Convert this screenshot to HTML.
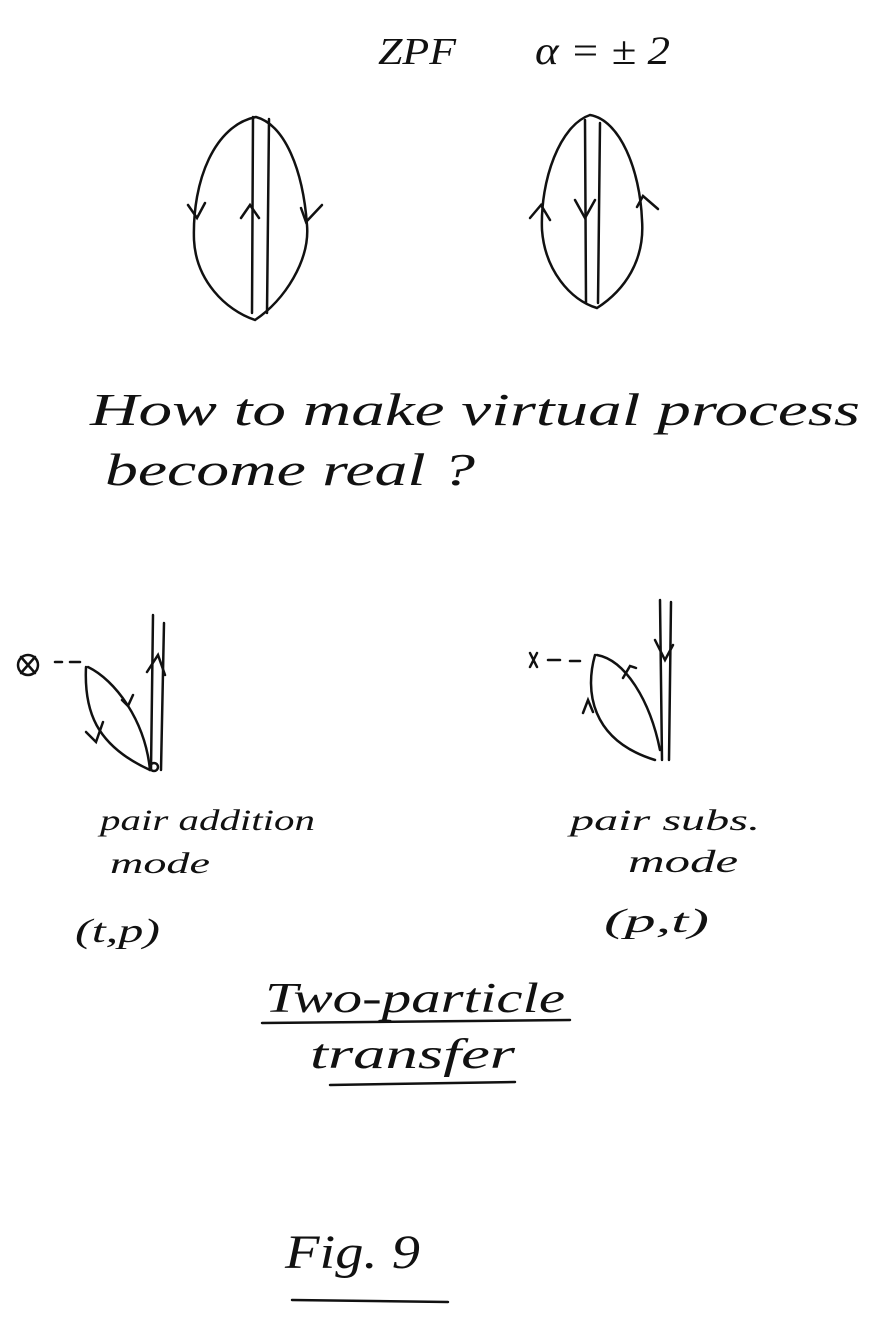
<!DOCTYPE html>
<html><head><style>
html,body{margin:0;padding:0;background:#fff;}
svg{display:block}
text{font-family:"Liberation Serif",serif;font-style:italic;fill:#111}
</style></head><body>
<svg width="884" height="1334" viewBox="0 0 884 1334" xmlns="http://www.w3.org/2000/svg">
<g fill="none" stroke="#111" stroke-width="2.5" stroke-linecap="round">
<path d="M256 117 C215 125 192 180 194 240 C196 280 225 310 255 320 C285 300 310 260 307 225 C303 170 285 125 256 117"/>
<line x1="253" y1="117" x2="252" y2="313"/>
<line x1="269" y1="119" x2="267" y2="313"/>
<path d="M188 205 L197 218 L205 203"/>
<path d="M241 218 L250 205 L259 218"/>
<path d="M301 208 L306 222 L322 205"/>
<path d="M590 115 C560 125 540 180 542 230 C545 270 570 300 597 308 C625 290 645 260 642 220 C640 170 620 120 590 115"/>
<line x1="585" y1="120" x2="586" y2="303"/>
<line x1="600" y1="123" x2="598" y2="303"/>
<path d="M530 218 L541 205 L550 220"/>
<path d="M575 200 L585 218 L595 200"/>
<path d="M637 207 L643 196 L658 209"/>
<!-- bottom left -->
<circle cx="28" cy="665" r="10"/>
<path d="M21 657 L35 673 M35 657 L21 673"/>
<path d="M55 662 L62 662 M70 662 L80 662"/>
<path d="M86 667 C84 710 95 745 150 770"/>
<path d="M88 667 C115 680 145 720 150 770"/>
<line x1="153" y1="615" x2="151" y2="770"/>
<line x1="164" y1="623" x2="161" y2="770"/>
<circle cx="154" cy="767" r="4"/>
<path d="M147 672 L158 655 L165 675"/>
<path d="M122 700 L128 706 L133 695"/>
<path d="M86 732 L96 742 L103 722"/>
<!-- right bottom -->
<path d="M530 653 L537 667 M537 653 L530 667"/>
<path d="M548 660 L560 660 M570 661 L580 661"/>
<path d="M595 655 C585 690 590 740 655 760"/>
<path d="M597 655 C625 660 650 700 660 750"/>
<line x1="660" y1="600" x2="662" y2="760"/>
<line x1="671" y1="602" x2="669" y2="760"/>
<path d="M655 640 L665 660 L673 645"/>
<path d="M583 713 L588 700 L593 712"/>
<path d="M623 678 L630 666 L636 668"/>
</g>
<g>
<text x="378" y="64" font-size="38" font-style="normal" font-family="Liberation Sans" textLength="78" lengthAdjust="spacingAndGlyphs">ZPF</text>
<text x="535" y="64" font-size="40" textLength="135" lengthAdjust="spacingAndGlyphs">α = ± 2</text>
<text x="90" y="425" font-size="46" textLength="770" lengthAdjust="spacingAndGlyphs">How to  make virtual process</text>
<text x="105" y="485" font-size="46" textLength="370" lengthAdjust="spacingAndGlyphs">become real ?</text>
<text x="100" y="830" font-size="30" textLength="215" lengthAdjust="spacingAndGlyphs">pair addition</text>
<text x="110" y="873" font-size="30" textLength="100" lengthAdjust="spacingAndGlyphs">mode</text>
<text x="75" y="942" font-size="34" textLength="85" lengthAdjust="spacingAndGlyphs">(t,p)</text>
<text x="570" y="830" font-size="30" textLength="190" lengthAdjust="spacingAndGlyphs">pair subs.</text>
<text x="628" y="872" font-size="32" textLength="110" lengthAdjust="spacingAndGlyphs">mode</text>
<text x="604" y="932" font-size="34" textLength="105" lengthAdjust="spacingAndGlyphs">(p,t)</text>
<text x="265" y="1012" font-size="42" textLength="300" lengthAdjust="spacingAndGlyphs">Two-particle</text>
<text x="310" y="1068" font-size="42" textLength="205" lengthAdjust="spacingAndGlyphs">transfer</text>
<text x="285" y="1268" font-size="48" textLength="135" lengthAdjust="spacingAndGlyphs">Fig. 9</text>
</g>
<g stroke="#111" stroke-width="2.5" stroke-linecap="round">
<line x1="262" y1="1023" x2="570" y2="1020"/>
<line x1="330" y1="1085" x2="515" y2="1082"/>
<line x1="292" y1="1300" x2="448" y2="1302"/>
</g>
</svg>
</body></html>
